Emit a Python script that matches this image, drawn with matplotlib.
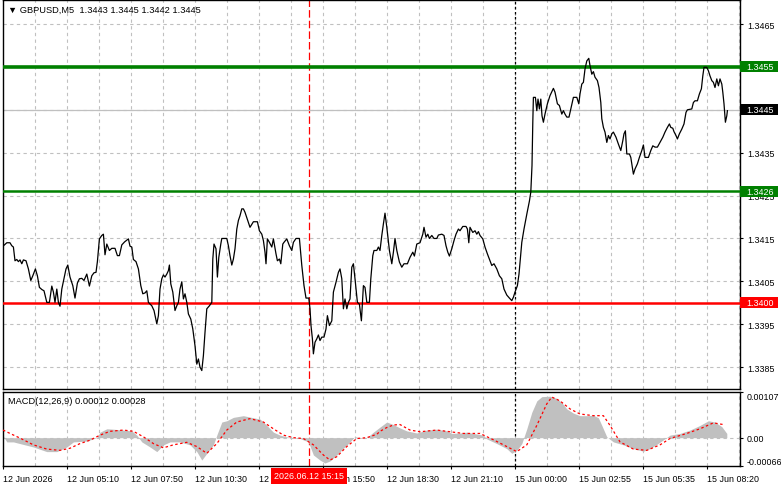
import numpy as np
import matplotlib.pyplot as plt
from matplotlib.patches import Rectangle

plt.rcParams['font.family'] = ['Liberation Sans', 'DejaVu Sans']
FS = 6.4

# GBPUSD M5 closes, x = 5-minute bar number counted from 12 Jun 00:00
bars = [0, 1.9, 3.5, 4.4, 5.2, 6, 6.9, 7.7, 8.5, 9.4, 10.2, 11.5, 12.7, 13.9, 14.9, 16.2, 17.2, 18.2, 19.4,
        20.5, 21.9, 23.2, 24.4, 25.2, 26, 26.9, 27.7, 28.5, 29.4, 30.5, 31.5, 32.4, 33.5, 34.9, 36, 37.2, 38.2,
        39.4, 40.5, 41.9, 43.2, 44.4, 45.5, 46.5, 47.2, 48.2, 49.4, 50.2, 51, 51.9, 53.2, 54.4, 56, 57.2, 58.2,
        59.4, 60.8, 62.7, 63.5, 64.4, 65.2, 66.5, 67.7, 68.9, 69.9, 71, 71.9, 72.7, 74.4, 75.5, 76.9, 77.7,
        78.5, 79.4, 80.2, 81, 81.9, 82.7, 83.2, 83.9, 84.9, 86, 86.9, 87.7, 88.5, 89.4, 90.2, 91, 91.9, 92.7,
        93.9, 94.9, 96, 96.9, 97.7, 98.5, 99.4, 100.2, 101, 101.9, 103.2, 104.4, 104.9, 105.5, 106.5, 107.2,
        107.9, 108.9, 109.4, 111.9, 112.7, 113.5, 114.4, 115.2, 116, 116.9, 117.7, 118.5, 119.4, 120.2, 121,
        123.5, 125.2, 127.2, 128.2, 129.4, 130.2, 131, 131.5, 132.2, 133.2, 134.4, 135.2, 136.5, 137.2, 138.2,
        138.9, 139.9, 140.5, 141.9, 143.2, 144.4, 145.2, 146.5, 148.2, 149.4, 150.5, 151.5, 152.9, 153.5, 154,
        154.7, 155.2, 156, 156.9, 157.7, 158.5, 159.4, 160.5, 161.5, 162.2, 163.2, 164.4, 165.2, 166.5, 167.7,
        168.5, 169.4, 170.2, 171, 171.9, 172.7, 173.5, 174.4, 175.2, 176, 177.2, 178.2, 179.2, 180.2, 181,
        181.9, 183.2, 183.9, 184.9, 185.5, 186.9, 187.7, 188.5, 189.4, 190.2, 191, 191.9, 193.2, 194.4, 195.2,
        196, 196.9, 198.2, 199.4, 200.5, 202.2, 203.5, 204.9, 205.7, 206.9, 208.5, 209.9, 210.5, 211.5, 212.4,
        213.2, 214.4, 215.5, 216.9, 217.7, 219.4, 220.5, 221.5, 222.4, 223.2, 224.4, 225.5, 226.5, 227.7,
        228.5, 229.9, 231.5, 232.2, 232.9, 233.5, 234.9, 236, 236.9, 237.7, 238.5, 239.9, 241, 242.2, 243.2,
        244.4, 245.5, 246.9, 248.2, 249.4, 250.5, 251.9, 253.2, 254.4, 255.2, 256, 257.2, 258, 259.4, 260.5,
        262, 263.2, 263.9, 264.5, 264.9, 265.2, 266.2, 266.9, 267.5, 268.2, 268.9, 269.5, 270.2, 271, 272.2,
        273.5, 275.2, 276, 277.2, 278.2, 279.4, 280.2, 281, 281.9, 283, 283.9, 285.2, 286.9, 287.9, 288.5,
        289.4, 290.2, 291, 291.9, 292.9, 293.5, 294.4, 295.2, 296, 297.2, 298, 298.9, 299.4, 300.2, 301,
        301.9, 302.7, 303.5, 304.4, 305.2, 306.5, 307.7, 308.9, 309.9, 310.5, 311.2, 311.9, 313.2, 313.9,
        314.4, 315.2, 316, 317.2, 318.2, 319.4, 320.2, 321, 322.7, 323.9, 324.9, 326, 327.2, 328.5, 329.9,
        331, 332.2, 333.2, 333.9, 334.9, 335.5, 336.5, 337.2, 338.2, 339.4, 340.5, 341.5, 342.2, 344.4, 345.2,
        346, 347.2, 348.2, 349.2, 349.9, 350.5, 351.9, 352.7, 353.5, 354.4, 355.2, 356, 356.9, 357.7, 358.5,
        359.4, 359.9, 360.5, 361.2, 361.9, 362.2]
close = [1.34132, 1.34140, 1.34140, 1.34133, 1.34130, 1.34098, 1.34101, 1.34096, 1.34100, 1.34091, 1.34100,
         1.34098, 1.34079, 1.34052, 1.34063, 1.34079, 1.34063, 1.34036, 1.34031, 1.34028, 1.34001, 1.34001,
         1.34039, 1.34025, 1.34001, 1.34032, 1.34001, 1.33992, 1.34032, 1.34056, 1.34079, 1.34088, 1.34060,
         1.34040, 1.34011, 1.34046, 1.34056, 1.34057, 1.34052, 1.34067, 1.34039, 1.34063, 1.34070, 1.34071,
         1.34096, 1.34149, 1.34157, 1.34160, 1.34112, 1.34137, 1.34122, 1.34127, 1.34127, 1.34110, 1.34110,
         1.34135, 1.34142, 1.34149, 1.34132, 1.34130, 1.34101, 1.34096, 1.34079, 1.34040, 1.34021, 1.34023,
         1.34028, 1.34001, 1.33993, 1.33982, 1.33951, 1.33970, 1.34032, 1.34056, 1.34065, 1.34060, 1.34067,
         1.34075, 1.34088, 1.34044, 1.34025, 1.33982, 1.33993, 1.34001, 1.34032, 1.34049, 1.34009, 1.34021,
         1.34001, 1.33974, 1.33962, 1.33939, 1.33900, 1.33857, 1.33869, 1.33850, 1.33842, 1.33877, 1.33931,
         1.33986, 1.33993, 1.34001, 1.34102, 1.34137, 1.34126, 1.34060, 1.34106, 1.34137, 1.34150, 1.34150,
         1.34133, 1.34110, 1.34088, 1.34102, 1.34126, 1.34172, 1.34192, 1.34203, 1.34219, 1.34219, 1.34211,
         1.34176, 1.34189, 1.34189, 1.34168, 1.34160, 1.34145, 1.34118, 1.34091, 1.34149, 1.34141, 1.34130,
         1.34149, 1.34114, 1.34098, 1.34102, 1.34091, 1.34137, 1.34141, 1.34149, 1.34133, 1.34122, 1.34141,
         1.34150, 1.34150, 1.34087, 1.34040, 1.34011, 1.34011, 1.33986, 1.33947, 1.33916, 1.33881, 1.33908,
         1.33916, 1.33925, 1.33912, 1.33920, 1.33920, 1.33939, 1.33970, 1.33947, 1.33958, 1.34025, 1.34048,
         1.34071, 1.34079, 1.34056, 1.33986, 1.34009, 1.33986, 1.34001, 1.34009, 1.34083, 1.34091, 1.34056,
         1.34001, 1.33997, 1.33958, 1.34040, 1.34036, 1.34001, 1.34001, 1.34056, 1.34110, 1.34122, 1.34122,
         1.34130, 1.34122, 1.34157, 1.34184, 1.34209, 1.34176, 1.34122, 1.34091, 1.34118, 1.34150, 1.34122,
         1.34095, 1.34083, 1.34091, 1.34091, 1.34106, 1.34118, 1.34109, 1.34137, 1.34140, 1.34160, 1.34176,
         1.34153, 1.34160, 1.34150, 1.34157, 1.34150, 1.34150, 1.34158, 1.34160, 1.34157, 1.34133, 1.34118,
         1.34109, 1.34126, 1.34145, 1.34160, 1.34172, 1.34168, 1.34178, 1.34178, 1.34172, 1.34140, 1.34176,
         1.34164, 1.34168, 1.34160, 1.34166, 1.34157, 1.34149, 1.34130, 1.34114, 1.34102, 1.34087, 1.34091,
         1.34079, 1.34063, 1.34056, 1.34032, 1.34018, 1.34011, 1.34005, 1.34013, 1.34025, 1.34040, 1.34067,
         1.34141, 1.34172, 1.34209, 1.34237, 1.34258, 1.34320, 1.34421, 1.34479, 1.34479, 1.34448, 1.34475,
         1.34452, 1.34475, 1.34436, 1.34421, 1.34440, 1.34464, 1.34483, 1.34500, 1.34491, 1.34464, 1.34460,
         1.34440, 1.34448, 1.34440, 1.34433, 1.34433, 1.34452, 1.34479, 1.34479, 1.34464, 1.34487, 1.34510,
         1.34514, 1.34545, 1.34564, 1.34570, 1.34553, 1.34533, 1.34539, 1.34526, 1.34518, 1.34502, 1.34467,
         1.34429, 1.34409, 1.34398, 1.34374, 1.34390, 1.34382, 1.34394, 1.34398, 1.34386, 1.34370, 1.34355,
         1.34378, 1.34394, 1.34401, 1.34347, 1.34347, 1.34339, 1.34324, 1.34300, 1.34312, 1.34324, 1.34339,
         1.34355, 1.34368, 1.34339, 1.34339, 1.34355, 1.34366, 1.34363, 1.34363, 1.34374, 1.34386, 1.34398,
         1.34409, 1.34417, 1.34409, 1.34407, 1.34399, 1.34390, 1.34382, 1.34394, 1.34405, 1.34417, 1.34444,
         1.34450, 1.34452, 1.34467, 1.34471, 1.34471, 1.34487, 1.34499, 1.34529, 1.34549, 1.34549, 1.34541,
         1.34529, 1.34518, 1.34514, 1.34502, 1.34522, 1.34506, 1.34522, 1.34510, 1.34491, 1.34464, 1.34421,
         1.34436, 1.34448]

# MACD(12,26,9) histogram and signal, sampled along the panel
hist_bars = [0, 1.9, 5.2, 8.5, 15.2, 21.9, 26.9, 31.9, 35.2, 41.9, 46.9, 48.5, 51.9, 55.2, 60.2, 64.4, 66.9,
             69.4, 73.5, 76.9, 80.2, 83.5, 88.5, 93.5, 96.9, 99.4, 101.9, 105.2, 106.9, 109.4, 111.9, 115.2,
             120.2, 125.2, 128.5, 131.9, 135.2, 138.5, 143.5, 148.5, 152.7, 155.2, 158.5, 161, 163.5, 166.9,
             170.2, 173.5, 176, 178.5, 181.9, 185.2, 188.5, 191.9, 195.2, 198.5, 201.9, 206.9, 211.9, 216.9,
             221.9, 224.4, 228.5, 231.9, 235.2, 240.2, 241.9, 246.9, 251.9, 254.4, 256.9, 259.4, 261.9, 264.4,
             266.9, 269.4, 273.5, 276.9, 279.4, 281.9, 285.2, 288.5, 291.9, 295.2, 297.7, 299.4, 301.9, 305.2,
             310.2, 315.2, 320.2, 323.5, 326.9, 330.2, 333.5, 338.5, 343.5, 348.5, 352.7, 356, 359.4, 361.9]
hist = [0.00005, -0.0001, -0.0001, -0.00014, -0.00022, -0.00033, -0.00033, -0.00022, -0.0001, -0.00008, 0.0,
        0.00013, 0.00021, 0.0002, 0.00018, 0.00016, 0.00006, -0.0001, -0.00022, -0.00033, -0.00017, -0.0001,
        -0.0001, -0.00017, -0.00033, -0.00053, -0.00037, -0.00017, 0.00006, 0.00037, 0.0004, 0.00048, 0.00052,
        0.00047, 0.00044, 0.00029, 0.00013, 0.00006, 0.0, -0.00002, -0.0001, -0.00041, -0.00053, -0.0006,
        -0.00055, -0.00041, -0.00025, -0.0001, 0.00003, -0.00002, 0.0, 0.00013, 0.00025, 0.00037, 0.00031,
        0.00023, 0.00016, 0.00011, 0.00018, 0.0002, 0.00016, 0.0001, 0.00011, 0.00013, 0.0001, 0.00006,
        -0.00003, -0.00014, -0.00026, -0.00037, -0.0003, -0.00014, 0.00021, 0.0006, 0.00087, 0.00097, 0.00098,
        0.00093, 0.00083, 0.00068, 0.00058, 0.00052, 0.00052, 0.00053, 0.00047, 0.00029, 0.00002, -0.0001,
        -0.00017, -0.00026, -0.00032, -0.00026, -0.00016, -0.00005, 0.00006, 0.0001, 0.00018, 0.00029, 0.0004,
        0.00037, 0.00026, 0.0001]
sig_bars = [0, 3.5, 8.5, 15.2, 21.9, 28.5, 33.5, 38.5, 43.5, 48.5, 53.5, 60.2, 65.2, 70.2, 75.2, 80.2, 85.2,
            91.9, 96.9, 101.9, 106.9, 111.9, 116.9, 123.5, 130.2, 135.2, 140.2, 145.2, 150.2, 155.2, 160.2,
            163.5, 166.9, 171.9, 176.9, 181.9, 186.9, 188.5, 191.9, 195.2, 198.5, 203.5, 208.5, 216.9, 223.5,
            230.2, 238.5, 245.2, 251.9, 256.9, 261.9, 266.9, 271.9, 274.4, 278.5, 283.5, 288.5, 295.2, 300.2,
            303.5, 308.5, 315.2, 321.9, 328.5, 333.5, 341.9, 348.5, 355.2, 360.2]
signal = [0.00018, 0.0001, -0.00001, -0.00017, -0.00027, -0.0003, -0.00025, -0.00014, -0.00006, 0.00006,
          0.00015, 0.00018, 0.00015, 0.00002, -0.00014, -0.00024, -0.00017, -0.00011, -0.00021, -0.00037,
          -0.00014, 0.00018, 0.00037, 0.00045, 0.00037, 0.00021, 0.00006, 0.0, -0.00002, -0.00017, -0.00041,
          -0.00053, -0.00045, -0.00021, -0.00002, 0.0, 0.00008, 0.00015, 0.00024, 0.0003, 0.00031, 0.00018,
          0.00014, 0.00018, 0.00014, 0.0001, 0.0001, -0.00005, -0.00021, -0.00033, -0.00017, 0.00029, 0.0008,
          0.00096, 0.00087, 0.00068, 0.00056, 0.00052, 0.00052, 0.00029, -0.0001, -0.00027, -0.0003, -0.00017,
          -0.00002, 0.0001, 0.00021, 0.00035, 0.00031]

upper_level = 1.3455
lower_level = 1.3426
red_level = 1.3400
bid = 1.3445
price_ticks = [1.3385, 1.3395, 1.3405, 1.3415, 1.3425, 1.3435, 1.3445, 1.3455, 1.3465]
macd_ticks = [-0.00066, 0.0, 0.00107]
time_ticks = [0, 32, 64, 96, 128, 160, 192, 224, 256, 288, 320, 352]
time_labels = ['12 Jun 2026', '12 Jun 05:10', '12 Jun 07:50', '12 Jun 10:30', '12 Jun 13:10',
               '12 Jun 15:50', '12 Jun 18:30', '12 Jun 21:10', '15 Jun 00:00', '15 Jun 02:55',
               '15 Jun 05:35', '15 Jun 08:20']
vline_bar = 153      # 2026.06.12 15:15
day_sep_bar = 256    # 15 Jun 00:00

W, H = 781, 489
fig = plt.figure(figsize=(W / 100, H / 100), dpi=100)
ax = fig.add_axes([3 / W, 1 - 390 / H, 737 / W, 389 / H])
ax2 = fig.add_axes([3 / W, 1 - 467 / H, 737 / W, 74 / H])

grid_kw = dict(color='#c0c0c0', lw=0.8, ls=(0, (3, 3)), zorder=0)
xmax = 368.5
for a in (ax, ax2):
    a.set_xlim(0, xmax)
    for g in np.arange(16, xmax, 16):
        a.axvline(g, **grid_kw)
    a.axvline(day_sep_bar, color='black', lw=0.9, ls=(0, (2, 2)), zorder=1)
    a.axvline(vline_bar, color='red', lw=0.9, ls=(0, (6, 2.5)), zorder=1)
    for s in a.spines.values():
        s.set_color('black')
        s.set_linewidth(1.0)
    a.yaxis.tick_right()
    a.tick_params(axis='y', direction='out', length=2.5, width=0.8, pad=3, labelsize=FS, colors='black')

# price panel
ylo, yhi = 1.33799, 1.34706
ax.set_ylim(ylo, yhi)
for p in price_ticks:
    ax.axhline(p, **grid_kw)
ax.set_yticks(price_ticks)
# the labels at 1.3445 and 1.3455 sit under the bid and level tags
ax.set_yticklabels(['' if p in (bid, upper_level) else '%.4f' % p for p in price_ticks])
ax.set_xticks([])
ax.axhline(bid, color='#c0c0c0', lw=0.9, zorder=1)
ax.axhline(upper_level, color='#008000', lw=2.6, zorder=3)
ax.axhline(lower_level, color='#008000', lw=1.8, zorder=3)
ax.axhline(red_level, color='#ff0000', lw=1.8, zorder=3)
ax.plot(bars, close, color='black', lw=0.9, zorder=4)

tr = ax.get_yaxis_transform()
h = (yhi - ylo) * 11 / 389
for val, fc in [(upper_level, '#008000'), (lower_level, '#008000'), (red_level, '#ff0000'), (bid, 'black')]:
    ax.add_patch(Rectangle((1.0, val - h / 2), 38 / 737, h, transform=tr, clip_on=False,
                           facecolor=fc, edgecolor='none', zorder=10))
    ax.text(1.0 + 6 / 737, val, '%.4f' % val, transform=tr, va='center', ha='left',
            fontsize=FS, color='white', clip_on=False, zorder=11)

ax.text(5 / 737, 1 - 9 / 389, '\u25bc GBPUSD,M5  1.3443 1.3445 1.3442 1.3445', transform=ax.transAxes,
        fontsize=FS + 0.3, va='center', ha='left', color='black')

# MACD panel
ax2.set_ylim(-0.00067, 0.00108)
ax2.axhline(0, **grid_kw)
ax2.fill_between(hist_bars, hist, 0, color='#c0c0c0', lw=0, zorder=2)
ax2.plot(sig_bars, signal, color='red', lw=0.9, ls=(0, (2, 2)), zorder=3)
ax2.set_yticks(macd_ticks)
ax2.set_yticklabels(['-0.00066', '0.00', '0.00107'])
ax2.tick_params(axis='y', pad=2)
labs = ax2.get_yticklabels()
labs[0].set_va('bottom')
labs[2].set_va('top')
ax2.set_xticks(time_ticks)
ax2.set_xticklabels(time_labels, ha='left')
ax2.tick_params(axis='x', direction='out', length=2.5, width=0.8, pad=3, labelsize=FS, colors='black')
ax2.text(5 / 737, 1 - 9 / 74, 'MACD(12,26,9) 0.00012 0.00028', transform=ax2.transAxes,
         fontsize=FS + 0.3, va='center', ha='left', color='black')
ax2.text(vline_bar, -0.135, '2026.06.12 15:15', transform=ax2.get_xaxis_transform(), ha='center',
         va='center', fontsize=FS, color='white', clip_on=False, zorder=10,
         bbox=dict(boxstyle='square,pad=0.35', fc='red', ec='none'))

fig.savefig('out.png', dpi=100)
